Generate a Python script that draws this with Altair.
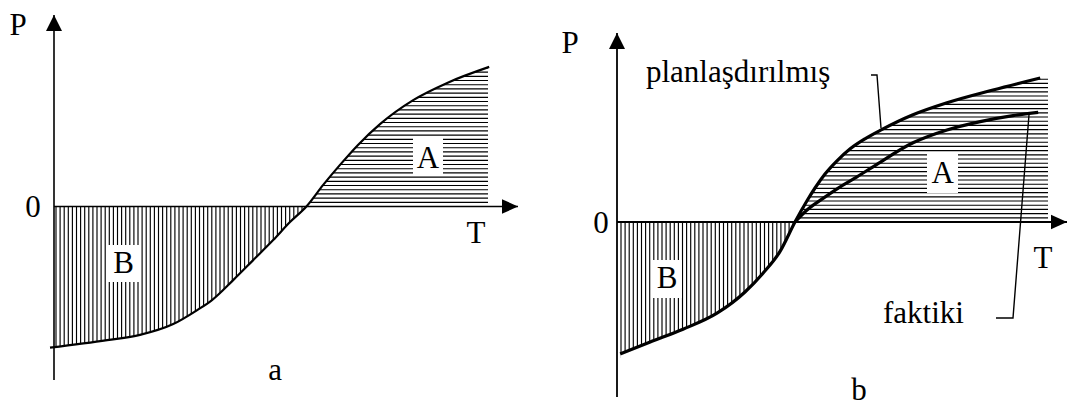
import altair as alt
import pandas as pd

# ---------------- data ----------------
# panel a: single curve
a_T = [-0.1, 1.33, 2.15, 2.98, 3.58, 3.95, 4.48, 4.98, 5.48, 5.9, 6.31, 6.73, 7.15, 7.6, 8.15, 8.98, 9.83, 10.88]
a_P = [-3.53, -3.34, -3.21, -2.94, -2.59, -2.34, -1.84, -1.34, -0.84, -0.39, 0.0, 0.54, 1.04, 1.54, 2.06, 2.66, 3.09, 3.49]

# panel b: planned ("planlaşdırılmış") and actual ("faktiki") curves
b_plan_T = [0.08, 0.83, 1.65, 2.5, 3.2, 3.65, 4.08, 4.45, 4.75, 4.95, 5.2, 5.5, 5.83, 6.2, 6.58, 7.4, 8.25, 9.4, 10.58]
b_plan_P = [-3.3, -3.0, -2.68, -2.28, -1.75, -1.28, -0.73, 0.0, 0.53, 0.85, 1.2, 1.53, 1.83, 2.08, 2.29, 2.68, 2.98, 3.3, 3.6]
b_fakt_T = [4.45, 4.75, 5.15, 5.58, 6.0, 6.4, 7.4, 8.25, 9.08, 9.9, 10.53]
b_fakt_P = [0.0, 0.3, 0.59, 0.88, 1.13, 1.38, 1.98, 2.3, 2.51, 2.66, 2.74]

FONT = "Liberation Serif"
FS = 31
H = 394
HATCH = dict(color="black", strokeWidth=1.15)


def df_curve(T, P):
    return pd.DataFrame({"T": T, "P": P})


def panel(T, P, width, xdom, ydom, hatch_x0, vbottom, hatch_x1, hatch_top,
          axis_bottom, x_tip, y_tip, curve_w, axis_w, labels, boxes,
          extra_curves=(), leaders=()):
    xs = alt.Scale(domain=xdom, nice=False, zero=False)
    ys = alt.Scale(domain=ydom, nice=False, zero=False)
    X = lambda f: alt.X(f, scale=xs, axis=None)
    Y = lambda f: alt.Y(f, scale=ys, axis=None)

    curve = df_curve(T, P)
    t_cross = T[P.index(0.0)]

    # hatching (styling only)
    vhatch = alt.Chart(alt.sequence(hatch_x0, t_cross - 0.04, 0.1025, as_="t")).transform_calculate(
        y0="0", y1=str(vbottom)
    ).mark_rule(**HATCH).encode(x=X("t:Q"), y=Y("y0:Q"), y2="y1:Q")
    hhatch = alt.Chart(alt.sequence(0.105, hatch_top + 0.001, 0.105, as_="p")).transform_calculate(
        x0=str(t_cross + 0.04), x1=str(hatch_x1)
    ).mark_rule(**HATCH).encode(y=Y("p:Q"), x=X("x0:Q"), x2="x1:Q")

    # white masks above / below the curve
    mask_top = alt.Chart(curve[curve.P >= 0]).transform_calculate(
        lim=str(ydom[1])
    ).mark_area(color="white", opacity=1, interpolate="monotone").encode(
        x=X("T:Q"), y=Y("P:Q"), y2="lim:Q")
    mask_bot = alt.Chart(curve[curve.P <= 0]).transform_calculate(
        lim=str(ydom[0])
    ).mark_area(color="white", opacity=1, interpolate="monotone").encode(
        x=X("T:Q"), y=Y("P:Q"), y2="lim:Q")

    box_df = pd.DataFrame(boxes, columns=["x", "x2", "y", "y2"])
    box = alt.Chart(box_df).mark_rect(color="white", opacity=1).encode(
        x=X("x:Q"), x2="x2:Q", y=Y("y:Q"), y2="y2:Q")

    layers = [vhatch, hhatch, mask_top, mask_bot, box]

    line = alt.Chart(curve).mark_line(color="black", strokeWidth=curve_w, interpolate="monotone").encode(
        x=X("T:Q"), y=Y("P:Q"))
    layers.append(line)
    for cT, cP in extra_curves:
        layers.append(alt.Chart(df_curve(cT, cP)).mark_line(
            color="black", strokeWidth=curve_w, interpolate="monotone").encode(x=X("T:Q"), y=Y("P:Q")))

    # axes
    xaxis = alt.Chart(pd.DataFrame({"x": [0.0], "x2": [x_tip], "y": [0.0]})).mark_rule(
        color="black", strokeWidth=axis_w).encode(x=X("x:Q"), x2="x2:Q", y=Y("y:Q"))
    yaxis = alt.Chart(pd.DataFrame({"x": [0.0], "y": [axis_bottom], "y2": [y_tip]})).mark_rule(
        color="black", strokeWidth=axis_w).encode(x=X("x:Q"), y=Y("y:Q"), y2="y2:Q")
    arr_x = alt.Chart(pd.DataFrame({"x": [x_tip], "y": [0.0]})).mark_point(
        shape="M0,0L-2,-0.92L-2,0.92Z", size=256, filled=True, color="black", opacity=1, strokeWidth=0
    ).encode(x=X("x:Q"), y=Y("y:Q"))
    arr_y = alt.Chart(pd.DataFrame({"x": [0.0], "y": [y_tip]})).mark_point(
        shape="M0,0L-1,2L1,2Z", size=256, filled=True, color="black", opacity=1, strokeWidth=0
    ).encode(x=X("x:Q"), y=Y("y:Q"))
    layers += [xaxis, yaxis, arr_x, arr_y]

    for lt, lp in leaders:
        ldf = pd.DataFrame({"T": lt, "P": lp, "o": list(range(len(lt)))})
        layers.append(alt.Chart(ldf).mark_line(color="black", strokeWidth=1.4).encode(
            x=X("T:Q"), y=Y("P:Q"), order="o:Q"))

    for txt, tx, ty, al in labels:
        layers.append(alt.Chart(pd.DataFrame({"x": [tx], "y": [ty]})).mark_text(
            font=FONT, fontSize=FS, align=al, baseline="alphabetic", color="black"
        ).encode(x=X("x:Q"), y=Y("y:Q"), text=alt.value(txt)))

    return alt.layer(*layers).properties(width=width, height=H)


pa = panel(
    a_T, a_P, 532, [-1.15, 12.15], [-4.8875, 4.9625],
    hatch_x0=0.05, vbottom=-3.6, hatch_x1=10.85, hatch_top=3.49,
    axis_bottom=-4.34, x_tip=11.6, y_tip=4.79, curve_w=2.2, axis_w=1.6,
    labels=[("P", -0.9, 4.3, "center"), ("0", -0.525, -0.26, "center"),
            ("T", 10.55, -0.91, "center"), ("a", 5.53, -4.34, "center"),
            ("A", 9.35, 0.96, "center"), ("B", 1.74, -1.66, "center")],
    boxes=[(8.975, 9.725, 0.7875, 1.7125), (1.35, 2.125, -1.8875, -0.9625)],
)

pb = panel(
    b_plan_T, b_plan_P, 529, [-1.925, 11.3], [-4.5, 5.35],
    hatch_x0=0.1, vbottom=-3.4, hatch_x1=10.775, hatch_top=3.6,
    axis_bottom=-4.375, x_tip=11.25, y_tip=4.725, curve_w=3.2, axis_w=1.8,
    labels=[("P", -1.175, 4.225, "center"), ("0", -0.4, -0.275, "center"),
            ("T", 10.65, -1.15, "center"), ("b", 6.05, -4.45, "center"),
            ("A", 8.14, 0.975, "center"), ("B", 1.25, -1.65, "center"),
            ("planlaşdırılmış", 0.725, 3.5, "left"), ("faktiki", 6.65, -2.525, "left")],
    boxes=[(7.75, 8.525, 0.725, 1.725), (0.9, 1.625, -1.9, -0.95)],
    extra_curves=[(b_fakt_T, b_fakt_P)],
    leaders=[([6.35, 6.5, 6.6], [3.675, 3.675, 2.35]),
             ([9.475, 9.9, 10.3], [-2.4, -2.4, 2.68])],
)

chart = alt.hconcat(pa, pb, spacing=0).properties(
    padding=0, background="white"
).configure_view(stroke=None).configure_text(font=FONT)

chart.save("out.html", embed_options={"renderer": "svg", "actions": False})
